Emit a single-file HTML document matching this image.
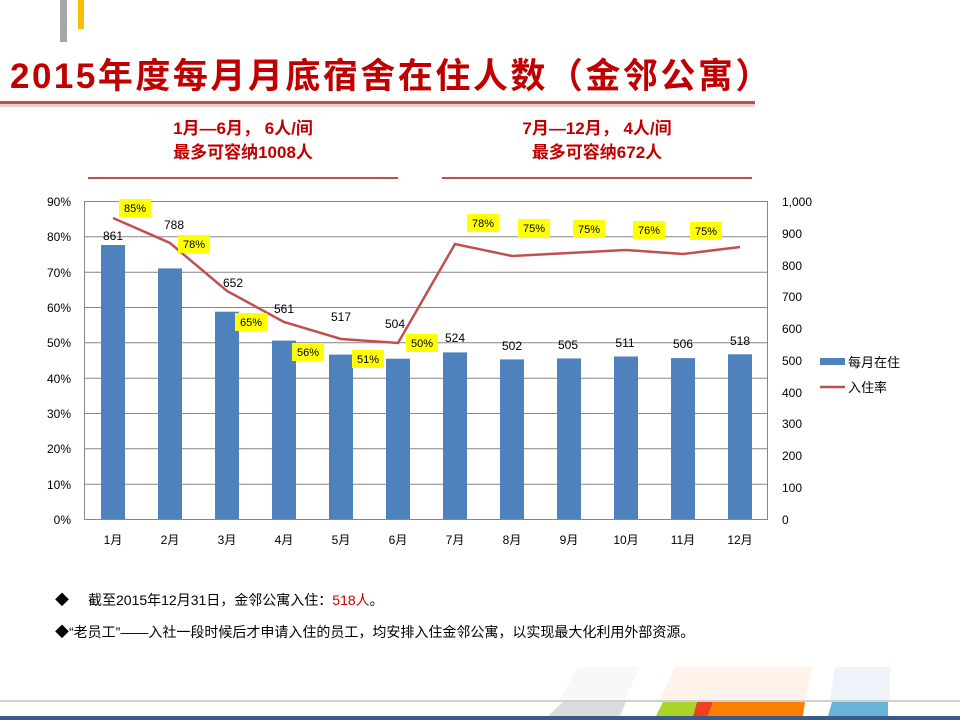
<!DOCTYPE html>
<html><head><meta charset="utf-8"><style>
body{margin:0;width:960px;height:720px;background:#fff;position:relative;overflow:hidden;font-family:"Liberation Sans","Noto Sans CJK SC",sans-serif}
.a{position:absolute}
</style></head><body>
<div class="a" style="left:60px;top:0;width:7px;height:42px;background:#a6a6a6"></div>
<div class="a" style="left:78px;top:0;width:6px;height:29px;background:#f5c000"></div>
<div class="a" style="left:10px;top:48px;font-size:35px;font-weight:bold;color:#c00000;letter-spacing:2.5px;white-space:nowrap">2015年度每月月底宿舍在住人数（金邻公寓）</div>
<div class="a" style="left:0;top:101px;width:755px;height:3px;background:#c0504d"></div>
<div class="a" style="left:0;top:104px;width:755px;height:3px;background:#e8d0d0"></div>
<div class="a" style="left:88px;top:117px;width:310px;text-align:center;font-size:17px;font-weight:bold;color:#c00000;line-height:24px">1月—6月， 6人/间<br>最多可容纳1008人</div>
<div class="a" style="left:442px;top:117px;width:310px;text-align:center;font-size:17px;font-weight:bold;color:#c00000;line-height:24px">7月—12月， 4人/间<br>最多可容纳672人</div>
<div class="a" style="left:88px;top:177px;width:310px;height:2px;background:#c0504d"></div>
<div class="a" style="left:442px;top:177px;width:310px;height:2px;background:#c0504d"></div>
<svg class="a" style="left:0;top:0" width="960" height="720" font-family="Liberation Sans,Noto Sans CJK SC,sans-serif" font-size="12">
<g stroke="#868686" stroke-width="1">
<line x1="84" y1="201.5" x2="768" y2="201.5"/><line x1="84" y1="236.8" x2="768" y2="236.8"/><line x1="84" y1="272.2" x2="768" y2="272.2"/><line x1="84" y1="307.5" x2="768" y2="307.5"/><line x1="84" y1="342.8" x2="768" y2="342.8"/><line x1="84" y1="378.2" x2="768" y2="378.2"/><line x1="84" y1="413.5" x2="768" y2="413.5"/><line x1="84" y1="448.8" x2="768" y2="448.8"/><line x1="84" y1="484.2" x2="768" y2="484.2"/><line x1="84" y1="519.5" x2="768" y2="519.5"/>
<line x1="84.5" y1="201" x2="84.5" y2="519"/><line x1="767.5" y1="201" x2="767.5" y2="519"/>
</g>
<g fill="#4f81bd">
<rect x="101" y="245" width="24" height="274"/><rect x="158" y="268.4" width="24" height="250.6"/><rect x="215" y="311.7" width="24" height="207.3"/><rect x="272" y="340.6" width="24" height="178.4"/><rect x="329" y="354.6" width="24" height="164.4"/><rect x="386" y="358.7" width="24" height="160.3"/><rect x="443" y="352.4" width="24" height="166.6"/><rect x="500" y="359.4" width="24" height="159.6"/><rect x="557" y="358.4" width="24" height="160.6"/><rect x="614" y="356.5" width="24" height="162.5"/><rect x="671" y="358.1" width="24" height="160.9"/><rect x="728" y="354.3" width="24" height="164.7"/>
</g>
<polyline fill="none" stroke="#c0504d" stroke-width="2.5" points="113,218 170,243 227,291 284,322 341,339 398,343 455,244 512,256 569,253 626,250 683,254 740,247"/>
<g fill="#000" text-anchor="end"><text x="71" y="206">90%</text><text x="71" y="241">80%</text><text x="71" y="277">70%</text><text x="71" y="312">60%</text><text x="71" y="347">50%</text><text x="71" y="383">40%</text><text x="71" y="418">30%</text><text x="71" y="453">20%</text><text x="71" y="489">10%</text><text x="71" y="524">0%</text></g>
<g fill="#000"><text x="782" y="206">1,000</text><text x="782" y="238">900</text><text x="782" y="270">800</text><text x="782" y="301">700</text><text x="782" y="333">600</text><text x="782" y="365">500</text><text x="782" y="397">400</text><text x="782" y="428">300</text><text x="782" y="460">200</text><text x="782" y="492">100</text><text x="782" y="524">0</text></g>
<g fill="#000" text-anchor="middle"><text x="113" y="544">1月</text><text x="170" y="544">2月</text><text x="227" y="544">3月</text><text x="284" y="544">4月</text><text x="341" y="544">5月</text><text x="398" y="544">6月</text><text x="455" y="544">7月</text><text x="512" y="544">8月</text><text x="569" y="544">9月</text><text x="626" y="544">10月</text><text x="683" y="544">11月</text><text x="740" y="544">12月</text></g>
<g fill="#000" text-anchor="middle"><text x="113" y="240">861</text><text x="174" y="229">788</text><text x="233" y="287">652</text><text x="284" y="313">561</text><text x="341" y="321">517</text><text x="395" y="328">504</text><text x="455" y="342">524</text><text x="512" y="350">502</text><text x="568" y="349">505</text><text x="625" y="347">511</text><text x="683" y="348">506</text><text x="740" y="345">518</text></g>
<g fill="#ffff00"><rect x="119" y="199" width="32" height="18"/><rect x="178" y="235" width="32" height="18"/><rect x="235" y="313" width="32" height="18"/><rect x="292" y="343" width="32" height="18"/><rect x="352" y="350" width="32" height="18"/><rect x="406" y="334" width="32" height="18"/><rect x="467" y="214" width="32" height="18"/><rect x="518" y="219" width="32" height="18"/><rect x="573" y="220" width="32" height="18"/><rect x="633" y="221" width="32" height="18"/><rect x="690" y="222" width="32" height="18"/></g>
<g fill="#000" text-anchor="middle" font-size="11"><text x="135" y="212">85%</text><text x="194" y="248">78%</text><text x="251" y="326">65%</text><text x="308" y="356">56%</text><text x="368" y="363">51%</text><text x="422" y="347">50%</text><text x="483" y="227">78%</text><text x="534" y="232">75%</text><text x="589" y="233">75%</text><text x="649" y="234">76%</text><text x="706" y="235">75%</text></g>
<rect x="820" y="358" width="25" height="7" fill="#4f81bd"/><text x="848" y="367" fill="#000" font-size="13">每月在住</text>
<line x1="820" y1="387" x2="845" y2="387" stroke="#c0504d" stroke-width="2.5"/><text x="848" y="392" fill="#000" font-size="13">入住率</text>
<text x="55" y="605" font-size="14" fill="#000">◆</text>
<text x="88" y="605" font-size="14" fill="#000">截至2015年12月31日，金邻公寓入住：<tspan fill="#c00000">518人</tspan>。</text>
<text x="55" y="637" font-size="14" fill="#000">◆“老员工”——入社一段时候后才申请入住的员工，均安排入住金邻公寓，以实现最大化利用外部资源。</text>
<polygon points="578,667 640,667 625,700 560,700" fill="#f8f8f8"/>
<polygon points="675,667 813,667 805,700 660,700" fill="#fdf3ea"/>
<polygon points="835,667 890,667 890,700 830,700" fill="#eef4fa"/>
<line x1="0" y1="701" x2="960" y2="701" stroke="#a0a0a0" stroke-width="1"/>
<polygon points="563,702 626,702 620,716 548,716" fill="#dcdcdc"/>
<polygon points="663,702 697,702 693,716 656,716" fill="#a8d42c"/>
<polygon points="697,702 713,702 708,716 693,716" fill="#f04020"/>
<polygon points="713,702 805,702 803,716 708,716" fill="#ff7f00"/>
<polygon points="832,702 888,702 888,716 828,716" fill="#6ab4d8"/>
<rect x="0" y="716" width="960" height="4" fill="#3a5a8c"/>
</svg>
</body></html>
